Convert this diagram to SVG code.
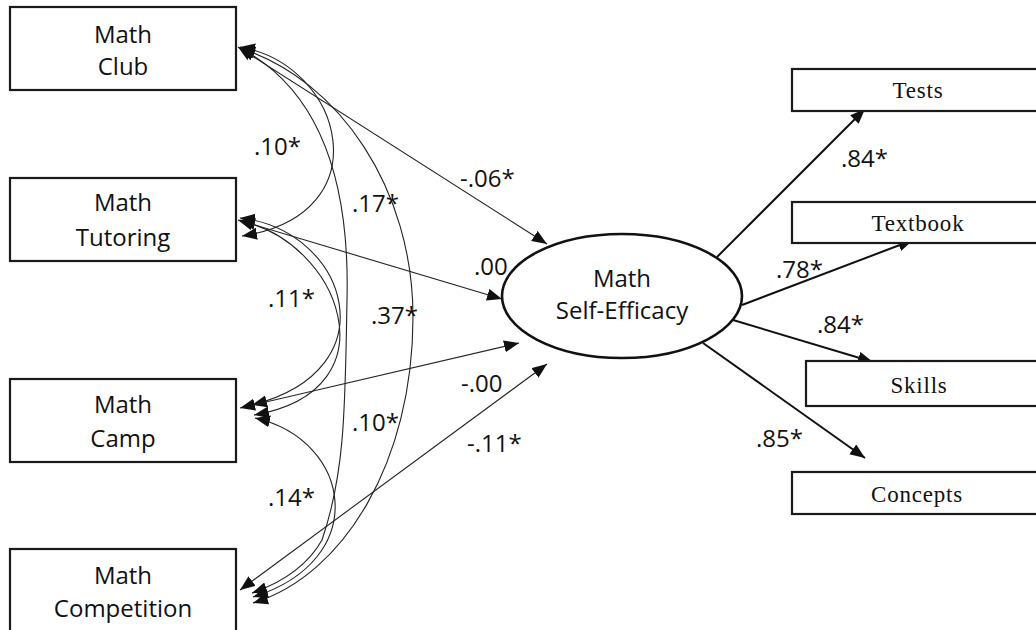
<svg xmlns="http://www.w3.org/2000/svg" width="1036" height="630" viewBox="0 0 1036 630">
<style>
.box{fill:#fff;stroke:#1a1a1a;stroke-width:2.2}
.ell{fill:#fff;stroke:#111;stroke-width:2.6}
.t{font-family:"Open Sans","Liberation Sans",sans-serif;font-size:24px;fill:#111;text-anchor:middle}
.lab{font-family:"Open Sans","Liberation Sans",sans-serif;font-size:24px;fill:#111}
.s{font-family:"Liberation Serif","DejaVu Serif",serif;font-size:23px;fill:#111;text-anchor:middle;letter-spacing:0.8px}
.thin{fill:none;stroke:#222;stroke-width:1.1;marker-start:url(#ah);marker-end:url(#ah)}
.thick{fill:none;stroke:#111;stroke-width:2;marker-end:url(#ah2)}
</style>
<defs>
<marker id="ah" markerUnits="userSpaceOnUse" markerWidth="16" markerHeight="13" refX="15" refY="6" orient="auto-start-reverse"><path d="M0,0 L15,6 L0,12 z" fill="#111"/></marker>
<marker id="ah2" markerUnits="userSpaceOnUse" markerWidth="17" markerHeight="13" refX="15" refY="6" orient="auto"><path d="M0,0 L15,6 L0,12 z" fill="#111"/></marker>
</defs>
<rect width="1036" height="630" fill="#fff"/>

<g id="connectors">
<path class="thin" d="M240,47 C345,65 382,215 242,236"/>
<path class="thin" d="M240,48 C320,90 350,180 347,300 C345,400 346,470 322,540 C305,570 275,585 252,593"/>
<path class="thin" d="M240,48 C340,80 413,190 413,317 C413,460 345,575 253,603"/>
<path class="thin" d="M240,218 C348,230 392,370 252,405"/>
<path class="thin" d="M240,221 C338,240 398,390 254,415"/>
<path class="thin" d="M255,418 C352,440 372,560 253,597"/>
<line class="thin" x1="238" y1="47" x2="547" y2="244"/>
<line class="thin" x1="238" y1="220" x2="502" y2="299"/>
<line class="thin" x1="240" y1="408" x2="519" y2="343"/>
<line class="thin" x1="240" y1="590" x2="547" y2="364"/>
<line class="thick" x1="717" y1="257" x2="865" y2="109"/>
<line class="thick" x1="742" y1="305" x2="913" y2="240"/>
<line class="thick" x1="733" y1="320" x2="873" y2="362"/>
<line class="thick" x1="703" y1="343" x2="865" y2="458"/>
</g>

<g id="labels">
<text class="lab" x="254" y="155">.10*</text>
<text class="lab" x="352" y="212">.17*</text>
<text class="lab" x="268" y="307">.11*</text>
<text class="lab" x="371" y="324">.37*</text>
<text class="lab" x="352" y="431">.10*</text>
<text class="lab" x="268" y="506">.14*</text>
<text class="lab" x="460" y="187">-.06*</text>
<text class="lab" x="474" y="275">.00</text>
<text class="lab" x="461" y="392">-.00</text>
<text class="lab" x="467" y="452">-.11*</text>
<text class="lab" x="841" y="167">.84*</text>
<text class="lab" x="776" y="278">.78*</text>
<text class="lab" x="817" y="333">.84*</text>
<text class="lab" x="756" y="447">.85*</text>
</g>

<g id="math-club">
<rect class="box" x="10" y="7" width="226" height="83"/>
<text class="t" x="123" y="43">Math</text>
<text class="t" x="123" y="75">Club</text>
</g>
<g id="math-tutoring">
<rect class="box" x="10" y="178" width="226" height="83"/>
<text class="t" x="123" y="211">Math</text>
<text class="t" x="123" y="246">Tutoring</text>
</g>
<g id="math-camp">
<rect class="box" x="10" y="379" width="226" height="83"/>
<text class="t" x="123" y="413">Math</text>
<text class="t" x="123" y="447">Camp</text>
</g>
<g id="math-competition">
<rect class="box" x="10" y="549" width="226" height="90"/>
<text class="t" x="123" y="584">Math</text>
<text class="t" x="123" y="617">Competition</text>
</g>

<g id="self-efficacy">
<ellipse class="ell" cx="622" cy="296" rx="120" ry="62"/>
<text class="t" x="622" y="287">Math</text>
<text class="t" x="622" y="319">Self-Efficacy</text>
</g>

<g id="tests">
<rect class="box" x="792" y="69" width="250" height="42"/>
<text class="s" x="918" y="98">Tests</text>
</g>
<g id="textbook">
<rect class="box" x="792" y="202" width="250" height="41"/>
<text class="s" x="918" y="231">Textbook</text>
</g>
<g id="skills">
<rect class="box" x="806" y="361" width="236" height="45"/>
<text class="s" x="919" y="393">Skills</text>
</g>
<g id="concepts">
<rect class="box" x="792" y="472" width="250" height="42"/>
<text class="s" x="917" y="502">Concepts</text>
</g>
</svg>
